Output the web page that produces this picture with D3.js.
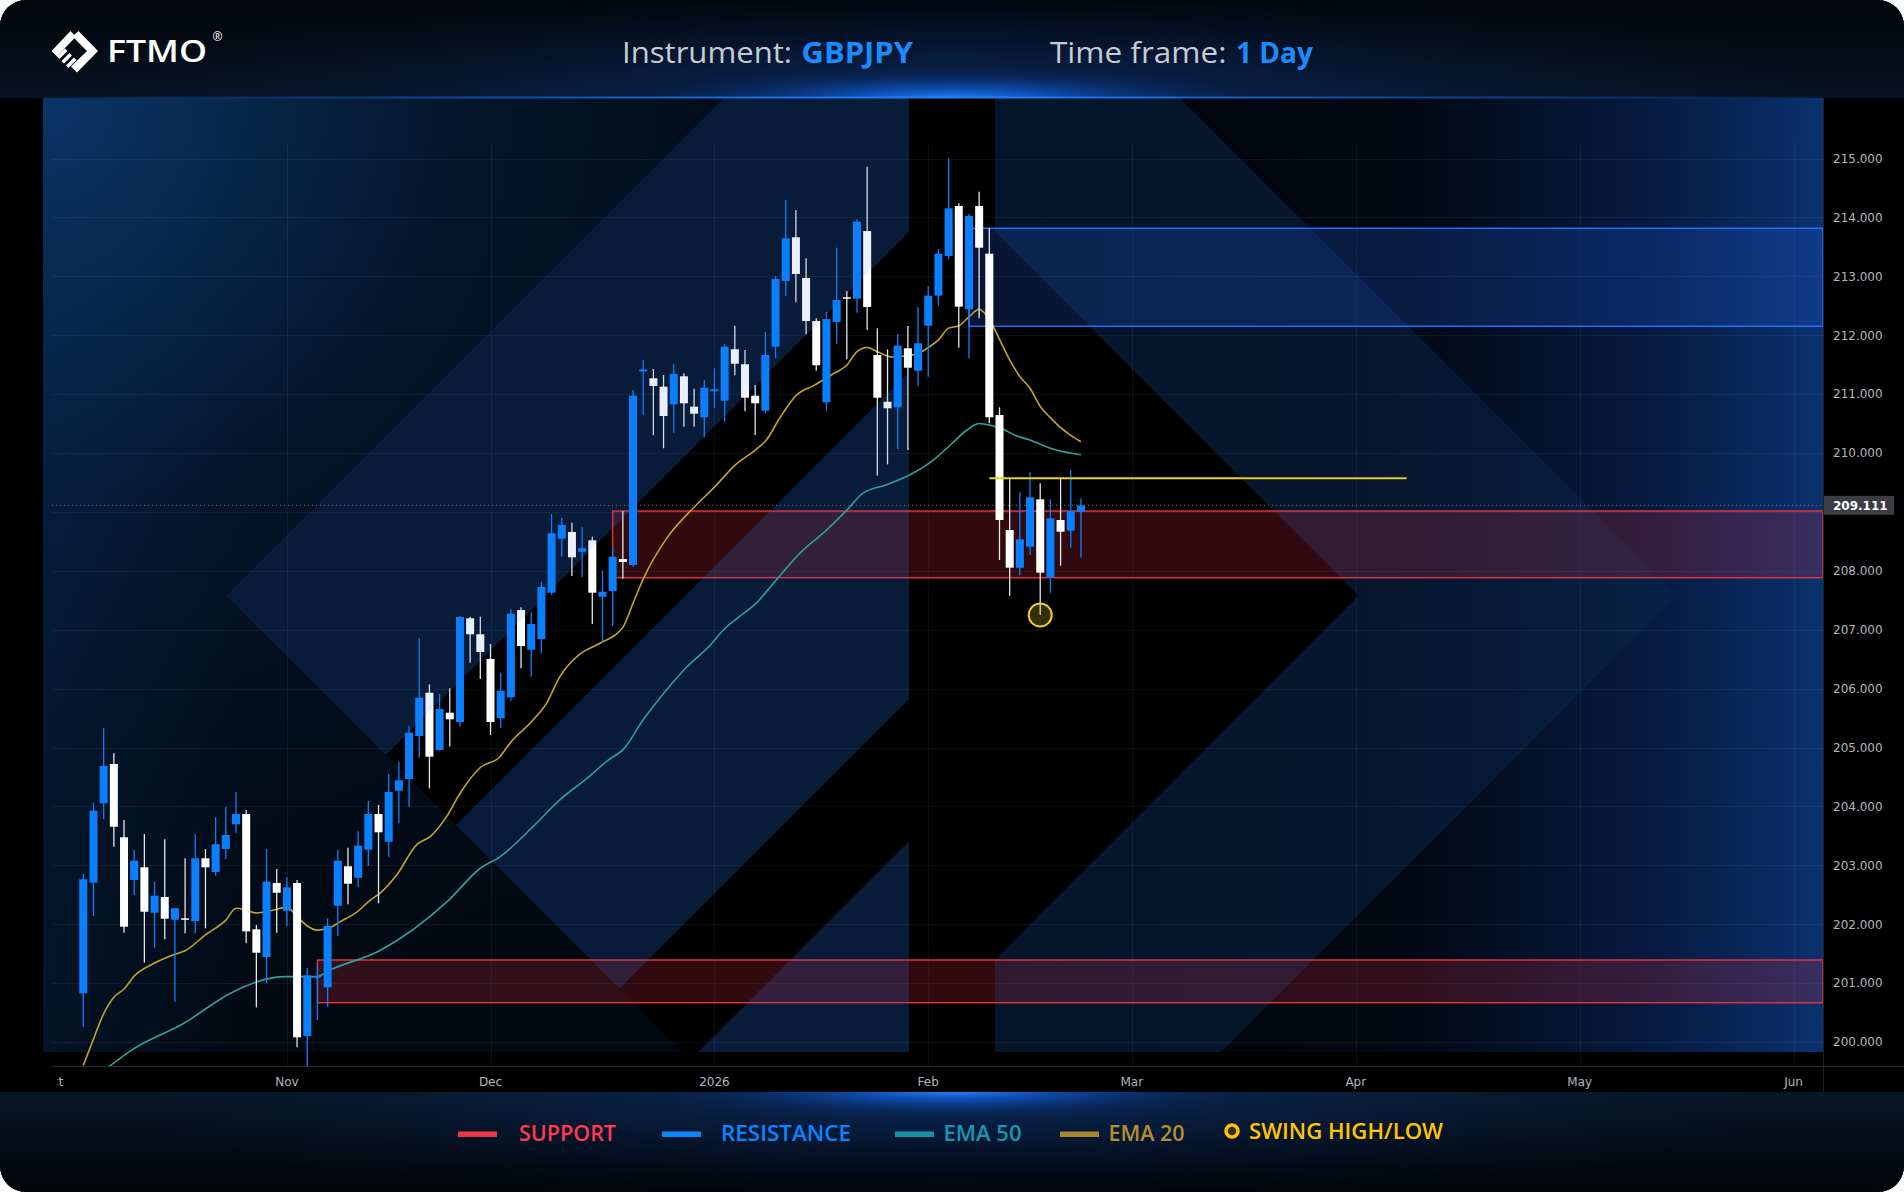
<!DOCTYPE html>
<html>
<head>
<meta charset="utf-8">
<script src="https://cdn.jsdelivr.net/npm/d3@7"></script>
<style>
  html, body { margin: 0; padding: 0; background: #ffffff; }
  svg { display: block; }
</style>
</head>
<body>
<div id="chart"></div>
<script>
// GBPJPY, daily bars. Bar 0 = Mon 6 Oct 2025, one bar per trading day.
const open = [200.827, 202.705, 204.053, 204.720, 203.475, 202.750, 202.966, 202.195, 202.462, 202.076,
  202.100, 202.054, 203.119, 202.886, 203.277, 203.696, 203.871, 201.913, 201.443, 202.700,
  202.229, 202.700, 200.102, 201.100, 200.929, 202.314, 202.983, 202.789, 203.265, 203.871,
  203.401, 204.267, 204.465, 205.195, 205.930, 204.958, 205.591, 205.433, 207.194, 206.922,
  206.503, 205.496, 205.852, 207.334, 206.660, 206.842, 207.628, 208.545, 208.659, 208.324,
  208.518, 207.560, 207.657, 208.200, 208.098, 211.384, 211.268, 211.126, 210.827, 211.302,
  210.786, 210.606, 211.047, 210.888, 211.761, 211.506, 210.973, 210.718, 211.805, 212.920,
  213.662, 212.971, 212.241, 210.861, 212.224, 212.645, 212.620, 213.769, 211.664, 210.871,
  210.776, 211.778, 211.397, 212.161, 212.671, 213.345, 214.194, 212.440, 214.194, 213.384,
  210.645, 208.693, 208.053, 208.409, 209.214, 207.890, 208.862, 208.681, 209.003];
const high = [202.852, 204.063, 205.331, 204.902, 203.769, 203.260, 203.531, 202.722, 203.441, 202.270,
  203.119, 203.531, 203.277, 203.815, 203.995, 204.244, 203.939, 201.986, 203.277, 202.937,
  202.796, 202.750, 201.256, 201.307, 202.100, 203.260, 203.299, 203.577, 204.092, 204.024,
  204.550, 204.759, 205.370, 206.854, 206.073, 205.908, 206.005, 207.233, 207.221, 207.221,
  206.757, 206.270, 207.346, 207.380, 207.295, 207.815, 208.964, 208.902, 208.817, 208.739,
  208.579, 208.002, 208.399, 209.015, 211.070, 211.579, 211.426, 211.324, 211.506, 211.353,
  211.092, 211.239, 211.438, 211.846, 212.161, 211.749, 211.154, 212.059, 213.005, 214.295,
  214.126, 213.306, 212.287, 212.394, 213.486, 212.750, 213.968, 214.861, 212.117, 211.761,
  212.020, 212.156, 212.474, 212.835, 213.463, 215.003, 214.239, 214.058, 214.436, 213.815,
  210.776, 209.553, 209.333, 209.683, 209.486, 209.214, 209.559, 209.711, 209.231];
const low = [200.260, 202.139, 203.781, 203.316, 201.856, 202.496, 201.346, 201.601, 201.744, 200.684,
  201.846, 201.846, 201.930, 202.823, 203.107, 203.554, 201.676, 200.589, 200.997, 201.856,
  201.969, 199.910, 199.593, 200.373, 200.599, 201.800, 202.338, 202.626, 202.988, 202.355,
  203.146, 203.713, 203.995, 204.827, 204.307, 204.946, 205.014, 205.353, 206.440, 206.163,
  205.212, 205.331, 205.795, 206.345, 206.202, 206.599, 207.589, 208.240, 207.912, 207.890,
  207.097, 206.779, 207.063, 207.866, 208.070, 210.645, 210.306, 210.080, 210.345, 210.447,
  210.447, 210.267, 210.759, 210.531, 211.319, 210.708, 210.306, 210.674, 211.608, 212.671,
  212.559, 212.015, 211.397, 210.718, 211.846, 211.591, 212.382, 212.088, 209.615, 209.808,
  210.068, 210.051, 211.138, 211.295, 212.501, 213.294, 211.788, 211.608, 212.287, 210.504,
  208.183, 207.577, 207.929, 208.268, 207.250, 207.628, 208.087, 208.392, 208.226];
const close = [202.762, 203.927, 204.686, 203.655, 201.958, 203.078, 202.212, 202.484, 202.093, 202.270,
  202.090, 203.119, 202.966, 203.357, 203.514, 203.871, 201.879, 201.516, 202.722, 202.535,
  202.626, 200.080, 201.132, 201.120, 201.969, 203.078, 202.688, 203.333, 203.871, 203.560,
  204.244, 204.443, 205.251, 205.846, 204.844, 205.654, 205.479, 207.216, 206.922, 206.621,
  205.433, 205.964, 207.272, 206.723, 207.097, 207.725, 208.637, 208.778, 208.229, 208.382,
  207.628, 207.645, 208.240, 208.149, 210.973, 211.418, 211.138, 210.628, 211.341, 210.844,
  210.667, 211.109, 211.081, 211.805, 211.516, 210.939, 210.844, 211.664, 212.954, 213.645,
  213.039, 212.241, 211.489, 212.275, 212.598, 212.630, 213.927, 212.479, 210.939, 210.759,
  211.822, 211.448, 211.862, 212.671, 213.384, 214.154, 212.484, 214.024, 213.486, 210.606,
  208.862, 208.053, 208.535, 209.248, 207.968, 208.891, 208.664, 209.015, 209.111];

// EMA lines: [bar, price]
const ema20 = [[0,199.60],[1,200.05],[2,200.48],[3,200.76],[4,200.90],[5,201.12],[7,201.34],[9,201.49],
  [10,201.55],[12,201.82],[14,202.07],[15,202.27],[16,202.24],[17,202.19],[18.7,202.24],[20,202.29],
  [21,202.13],[22,201.97],[23,201.90],[24.2,201.94],[25.2,202.04],[26.9,202.21],[28.2,202.41],
  [29.1,202.52],[30.8,202.84],[32.75,203.35],[34.1,203.49],[35.7,203.83],[37,204.22],[39,204.66],
  [40.9,204.84],[41.9,205.07],[44.2,205.47],[45.5,205.75],[46.8,206.20],[48.8,206.59],[50.75,206.77],
  [53,207.04],[54,207.45],[55,207.86],[57.3,208.55],[60,209.08],[62,209.42],[64,209.79],[66,210.05],
  [67.1,210.22],[68.4,210.59],[70.1,210.99],[71.7,211.14],[73.7,211.35],[75,211.49],[76,211.72],
  [77,211.79],[78,211.72],[79.5,211.63],[80.8,211.65],[82,211.69],[83,211.79],[84,211.92],[85,212.12],
  [86,212.16],[87,212.31],[88,212.44],[89,212.27],[90,211.93],[91,211.58],[92,211.30],[93,211.10],
  [94,210.79],[95,210.60],[96,210.43],[97,210.30],[98,210.19]];
const ema50 = [[2.5,199.58],[4.9,199.88],[9.8,200.31],[14.7,200.85],[19.8,201.11],[22.9,201.11],
  [24.2,201.22],[29.1,201.55],[35.9,202.41],[39,202.95],[40.9,203.14],[44.2,203.66],[46.8,204.11],
  [49.5,204.48],[51.6,204.79],[53,204.96],[55,205.47],[57.3,205.98],[59.3,206.37],[61.6,206.74],
  [62.9,207.00],[64.2,207.19],[66.1,207.45],[67.8,207.79],[70.4,208.30],[73,208.69],[75,209.03],
  [76.6,209.32],[78.9,209.46],[81.2,209.63],[83.5,209.88],[85.2,210.14],[86.8,210.39],[88,210.50],
  [89.1,210.47],[90.4,210.40],[91.4,210.31],[93,210.22],[94,210.15],[95.6,210.05],[98,209.97]];

// zones start at a bar and run to the right edge
const supportZones = [{from: 23, top: 201.392, bottom: 200.667}, {from: 52, top: 209.015, bottom: 207.883}];
const resistanceZones = [{from: 87, top: 213.815, bottom: 212.151}];
const swingLine = {from: 89, to: 130, price: 209.571};
const swingLow = {bar: 94, price: 207.25};
const lastPrice = 209.111;

const priceTicks = [215, 214, 213, 212, 211, 210, 208, 207, 206, 205, 204, 203, 202, 201, 200];
const gridPrices = [215, 214, 213, 212, 211, 210, 209, 208, 207, 206, 205, 204, 203, 202, 201, 200];
const monthTicks = [["Oct", -3], ["Nov", 20], ["Dec", 40], ["2026", 62], ["Feb", 83],
  ["Mar", 103], ["Apr", 125], ["May", 147], ["Jun", 168]];

const legendItems = [
  {label: "SUPPORT", color: "#ff3a4e", swatch: "#ee3447"},
  {label: "RESISTANCE", color: "#0b84ff", swatch: "#0b84ff"},
  {label: "EMA 50", color: "#1797b4", swatch: "#1593ad"},
  {label: "EMA 20", color: "#b38e2e", swatch: "#a8882e"},
  {label: "SWING HIGH/LOW", color: "#ffc400", swatch: "#ffc400"}
];

const W = 1904, H = 1192;
const plot = {left: 52, right: 1823, top: 98, bottom: 1066};

const x = d3.scaleLinear().domain([-3.0747, 170.894]).range([plot.left, plot.right]);
const y = d3.scaleLinear().domain([200, 215]).range([1042, 158.5]);

const svg = d3.select("#chart").append("svg")
    .attr("width", W)
    .attr("height", H)
    .attr("viewBox", [0, 0, W, H]);

const defs = svg.append("defs");

defs.append("clipPath").attr("id", "frame")
  .append("rect").attr("width", W).attr("height", H).attr("rx", 26);
defs.append("clipPath").attr("id", "plotClip")
  .append("rect").attr("x", plot.left).attr("y", plot.top)
  .attr("width", plot.right - plot.left).attr("height", plot.bottom - plot.top);
defs.append("clipPath").attr("id", "paneClip")
  .append("rect").attr("x", 43).attr("y", 98).attr("width", 1780).attr("height", 954);
defs.append("clipPath").attr("id", "headClip")
  .append("rect").attr("width", W).attr("height", 98);
defs.append("clipPath").attr("id", "footClip")
  .append("rect").attr("y", 1092).attr("width", W).attr("height", 100);
defs.append("clipPath").attr("id", "xLabelClip")
  .append("rect").attr("x", 57).attr("y", 1066).attr("width", 1766).attr("height", 26);

function linear(id, x1, y1, x2, y2, stops) {
  const g = defs.append("linearGradient").attr("id", id)
    .attr("gradientUnits", "userSpaceOnUse")
    .attr("x1", x1).attr("y1", y1).attr("x2", x2).attr("y2", y2);
  stops.forEach(([o, c, a = 1]) => g.append("stop").attr("offset", o).attr("stop-color", c).attr("stop-opacity", a));
}
function radial(id, stops) {
  const g = defs.append("radialGradient").attr("id", id);
  stops.forEach(([o, c, a = 1]) => g.append("stop").attr("offset", o).attr("stop-color", c).attr("stop-opacity", a));
}

linear("headGrad", 0, 0, 0, 98, [[0, "#020509"], [1, "#071222"]]);
linear("footGrad", 0, 1092, 0, 1192, [[0, "#081626"], [0.6, "#040b15"], [1, "#020408"]]);
linear("rightGrad", 995, 0, 1823, 0, [[0, "#010306"], [0.5, "#020813"], [0.8, "#061b42"], [1, "#0b316e"]]);
linear("leftEdge", 43, 0, 240, 0, [[0, "#0a3266", 0.25], [1, "#0a3266", 0]]);
linear("topLine", 43, 0, 1823, 0, [[0, "#1a70ff", 0.05], [0.5, "#1d80ff", 1], [1, "#1a70ff", 0.05]]);
defs.append("radialGradient").attr("id", "leftGrad")
    .attr("gradientUnits", "userSpaceOnUse")
    .attr("cx", 43).attr("cy", 98).attr("r", 1000)
  .call(g => [[0, "#0b3467"], [0.2, "#072649"], [0.42, "#04152b"], [0.7, "#020d1a"], [1, "#020810"]]
    .forEach(([o, c]) => g.append("stop").attr("offset", o).attr("stop-color", c)));
radial("glow", [[0, "#2a8cff", 1], [0.3, "#0f62e0", 0.7], [0.7, "#0a3a90", 0.25], [1, "#061a40", 0]]);
radial("glowWide", [[0, "#0b3c8a", 0.6], [1, "#061a40", 0]]);

const root = svg.append("g").attr("clip-path", "url(#frame)");

// frame, header and footer
root.append("rect").attr("width", W).attr("height", H).attr("fill", "#000");
root.append("rect").attr("width", W).attr("height", 98).attr("fill", "url(#headGrad)");
root.append("rect").attr("y", 1092).attr("width", W).attr("height", 100).attr("fill", "url(#footGrad)");

const head = root.append("g").attr("clip-path", "url(#headClip)");
head.append("ellipse").attr("cx", 952).attr("cy", 100).attr("rx", 900).attr("ry", 120).attr("fill", "url(#glowWide)");
head.append("ellipse").attr("cx", 952).attr("cy", 100).attr("rx", 330).attr("ry", 34).attr("fill", "url(#glow)");
const foot = root.append("g").attr("clip-path", "url(#footClip)");
foot.append("ellipse").attr("cx", 952).attr("cy", 1090).attr("rx", 900).attr("ry", 110).attr("fill", "url(#glowWide)");
foot.append("ellipse").attr("cx", 952).attr("cy", 1090).attr("rx", 300).attr("ry", 30).attr("fill", "url(#glow)");

// watermark background behind the chart
const poly = pts => "M" + pts.map(p => p.join(",")).join("L") + "Z";
const lightShapes = [
  [[226.5,595.5],[724,98],[909,98],[909,232],[386,755]],
  [[456,825],[909,372],[909,699],[619.5,988.5]],
  [[698,1052],[909,841],[909,1052]]
];
const chevronBand = poly([[995,98],[1180,98],[1677.5,595.5],[1221,1052],[995,1052]])
  + poly([[995,232],[1358.5,595.5],[995,959]]);
const darkShapes = [
  [[386,755],[909,232],[909,372],[456,825]],
  [[619.5,988.5],[909,699],[909,841],[698,1052],[683,1052]],
  [[995,232],[1358.5,595.5],[995,959]]
];

const pane = root.append("g").attr("clip-path", "url(#paneClip)");
pane.append("rect").attr("x", 43).attr("y", 98).attr("width", 866).attr("height", 954).attr("fill", "url(#leftGrad)");
pane.append("rect").attr("x", 43).attr("y", 98).attr("width", 240).attr("height", 954).attr("fill", "url(#leftEdge)");
pane.append("rect").attr("x", 995).attr("y", 98).attr("width", 828).attr("height", 954).attr("fill", "url(#rightGrad)");
pane.selectAll(".light").data(lightShapes).join("path")
    .attr("d", poly).attr("fill", "#051226");
pane.append("path").attr("d", chevronBand).attr("fill-rule", "evenodd").attr("fill", "#061730").attr("opacity", 0.5);
pane.selectAll(".dark").data(darkShapes).join("path")
    .attr("d", poly).attr("fill", "#000");

root.append("rect").attr("x", 43).attr("y", 96.5).attr("width", 1780).attr("height", 2).attr("fill", "url(#topLine)");

// grid
const grid = root.append("g").attr("stroke", "#8090a8").attr("stroke-opacity", 0.1).attr("stroke-width", 1);
grid.selectAll("line.h").data(gridPrices).join("line")
    .attr("x1", plot.left).attr("x2", plot.right)
    .attr("y1", d => Math.round(y(d)) + 0.5).attr("y2", d => Math.round(y(d)) + 0.5);
grid.selectAll("line.v").data(monthTicks.slice(1)).join("line")
    .attr("x1", d => Math.round(x(d[1])) + 0.5).attr("x2", d => Math.round(x(d[1])) + 0.5)
    .attr("y1", 143).attr("y2", plot.bottom);

const chart = root.append("g").attr("clip-path", "url(#plotClip)");

// support / resistance zones
chart.selectAll("rect.support").data(supportZones).join("rect")
    .attr("x", d => x(d.from)).attr("y", d => y(d.top))
    .attr("width", d => plot.right - x(d.from)).attr("height", d => y(d.bottom) - y(d.top))
    .attr("fill", "#c8283c").attr("fill-opacity", 0.24)
    .attr("stroke", "#e0323f").attr("stroke-width", 1.5);
chart.selectAll("rect.resist").data(resistanceZones).join("rect")
    .attr("x", d => x(d.from)).attr("y", d => y(d.top))
    .attr("width", d => plot.right - x(d.from)).attr("height", d => y(d.bottom) - y(d.top))
    .attr("fill", "#1e5fe8").attr("fill-opacity", 0.22)
    .attr("stroke", "#2a6cff").attr("stroke-width", 1.5);

// last price line
chart.append("line")
    .attr("x1", plot.left).attr("x2", plot.right)
    .attr("y1", y(lastPrice)).attr("y2", y(lastPrice))
    .attr("stroke", "#9aa0aa").attr("stroke-opacity", 0.7)
    .attr("stroke-dasharray", "1,3");

// EMAs
const emaLine = d3.line().x(d => x(d[0])).y(d => y(d[1])).curve(d3.curveMonotoneX);
chart.append("path").attr("d", emaLine(ema50))
    .attr("fill", "none").attr("stroke", "#2fa39b").attr("stroke-width", 1.6);
chart.append("path").attr("d", emaLine(ema20))
    .attr("fill", "none").attr("stroke", "#c4a32e").attr("stroke-width", 1.6);

// candles
const bars = d3.range(close.length);
const up = i => close[i] >= open[i];
const bodyW = 8;
const candle = chart.append("g").selectAll("g").data(bars).join("g");
candle.append("line")
    .attr("x1", i => x(i)).attr("x2", i => x(i))
    .attr("y1", i => y(high[i])).attr("y2", i => y(low[i]))
    .attr("stroke", i => up(i) ? "#0b80ff" : "#e4e6ea").attr("stroke-width", 1.3);
candle.append("rect")
    .attr("x", i => x(i) - bodyW / 2).attr("width", bodyW)
    .attr("y", i => y(Math.max(open[i], close[i])))
    .attr("height", i => Math.max(1.5, Math.abs(y(open[i]) - y(close[i]))))
    .attr("fill", i => up(i) ? "#0b80ff" : "#ffffff");

// swing level and swing low
chart.append("line")
    .attr("x1", x(swingLine.from)).attr("x2", x(swingLine.to))
    .attr("y1", y(swingLine.price)).attr("y2", y(swingLine.price))
    .attr("stroke", "#e9d31f").attr("stroke-width", 2.2);
chart.append("circle")
    .attr("cx", x(swingLow.bar)).attr("cy", y(swingLow.price)).attr("r", 11.5)
    .attr("fill", "#e9d31f").attr("fill-opacity", 0.22)
    .attr("stroke", "#e9d31f").attr("stroke-width", 2);

// light watermark stripes drawn over the chart
const over = root.append("g").attr("clip-path", "url(#paneClip)");
over.selectAll("path.l").data(lightShapes).join("path")
    .attr("d", poly).attr("fill", "#286edc").attr("fill-opacity", 0.1);
over.append("path").attr("d", chevronBand).attr("fill-rule", "evenodd")
    .attr("fill", "#286edc").attr("fill-opacity", 0.08);

// axes
root.append("line").attr("x1", plot.left).attr("x2", W).attr("y1", 1066.5).attr("y2", 1066.5)
    .attr("stroke", "#2a2e39");
root.append("line").attr("x1", plot.right + 0.5).attr("x2", plot.right + 0.5).attr("y1", 98).attr("y2", 1092)
    .attr("stroke", "#1e222c");

const axisFont = "'DejaVu Sans', sans-serif";
root.append("g").selectAll("text").data(priceTicks).join("text")
    .attr("x", 1833).attr("y", d => y(d)).attr("dy", "0.36em")
    .attr("font-family", axisFont).attr("font-size", 12).attr("fill", "#b2b5be")
    .text(d => d.toFixed(3));

root.append("rect").attr("x", 1824).attr("y", y(lastPrice) - 9.5).attr("width", 70).attr("height", 19)
    .attr("fill", "#3b3d42");
root.append("text").attr("x", 1833).attr("y", y(lastPrice)).attr("dy", "0.36em")
    .attr("font-family", axisFont).attr("font-size", 12).attr("font-weight", "bold").attr("fill", "#ffffff")
    .text(lastPrice.toFixed(3));

root.append("g").attr("clip-path", "url(#xLabelClip)")
  .selectAll("text").data(monthTicks).join("text")
    .attr("x", d => x(d[1])).attr("y", 1086).attr("text-anchor", "middle")
    .attr("font-family", axisFont).attr("font-size", 12).attr("fill", "#b2b5be")
    .text(d => d[0]);

// header
const logo = root.append("g").attr("transform", "translate(51.5,51)").attr("fill", "#ffffff");
[
  [[0,0],[19,-20],[24.5,-14.5],[5.5,5.5]],
  [[27,-20],[46.5,0],[25.5,21.5],[19.5,15.5],[35.5,0],[21,-14.5]],
  [[5.5,5.5],[13.5,-2.5],[16,0],[8,8]],
  [[10,10],[18,2],[20.5,4.5],[12.5,12.5]],
  [[14.5,14.5],[22.5,6.5],[25,9],[17,17]]
].forEach(p => logo.append("path").attr("d", poly(p)));
root.append("text").attr("x", 107).attr("y", 62).attr("textLength", 100).attr("lengthAdjust", "spacingAndGlyphs")
    .attr("font-family", "'Open Sans', sans-serif").attr("font-weight", 600).attr("font-size", 30)
    .attr("fill", "#ffffff").text("FTMO");
root.append("text").attr("x", 212.5).attr("y", 41).attr("font-family", "'Open Sans', sans-serif")
    .attr("font-size", 12).attr("fill", "#ffffff").text("®");

const headFont = "'Open Sans', sans-serif";
[
  {t: "Instrument:", x: 622, w: 170, c: "#c6ccd6", fw: 400},
  {t: "GBPJPY", x: 801.5, w: 111.5, c: "#1a8cff", fw: 700},
  {t: "Time frame:", x: 1050, w: 176.5, c: "#c6ccd6", fw: 400},
  {t: "1 Day", x: 1236, w: 77, c: "#1a8cff", fw: 700}
].forEach(d => root.append("text")
    .attr("x", d.x).attr("y", 63).attr("textLength", d.w).attr("lengthAdjust", "spacingAndGlyphs")
    .attr("font-family", headFont).attr("font-size", 29).attr("font-weight", d.fw)
    .attr("fill", d.c).text(d.t));

// legend
const legendPos = [
  {sx: 458, tx: 519, w: 97},
  {sx: 662, tx: 721, w: 130},
  {sx: 895, tx: 943.5, w: 78},
  {sx: 1060, tx: 1108.5, w: 76},
  {sx: 1232, tx: 1249, w: 194}
];
const legend = root.append("g");
legendItems.forEach((d, k) => {
  const p = legendPos[k];
  if (k < 4) {
    legend.append("rect").attr("x", p.sx).attr("y", 1131.5).attr("width", 39).attr("height", 5.5)
        .attr("fill", d.swatch);
  } else {
    legend.append("circle").attr("cx", p.sx).attr("cy", 1131).attr("r", 6)
        .attr("fill", "#3a2e00").attr("stroke", d.swatch).attr("stroke-width", 3.5);
  }
  legend.append("text").attr("x", p.tx).attr("y", k < 4 ? 1141 : 1138.5)
      .attr("textLength", p.w).attr("lengthAdjust", "spacingAndGlyphs")
      .attr("font-family", "'Open Sans', sans-serif").attr("font-weight", 600).attr("font-size", 22)
      .attr("fill", d.color).text(d.label);
});
</script>
</body>
</html>
